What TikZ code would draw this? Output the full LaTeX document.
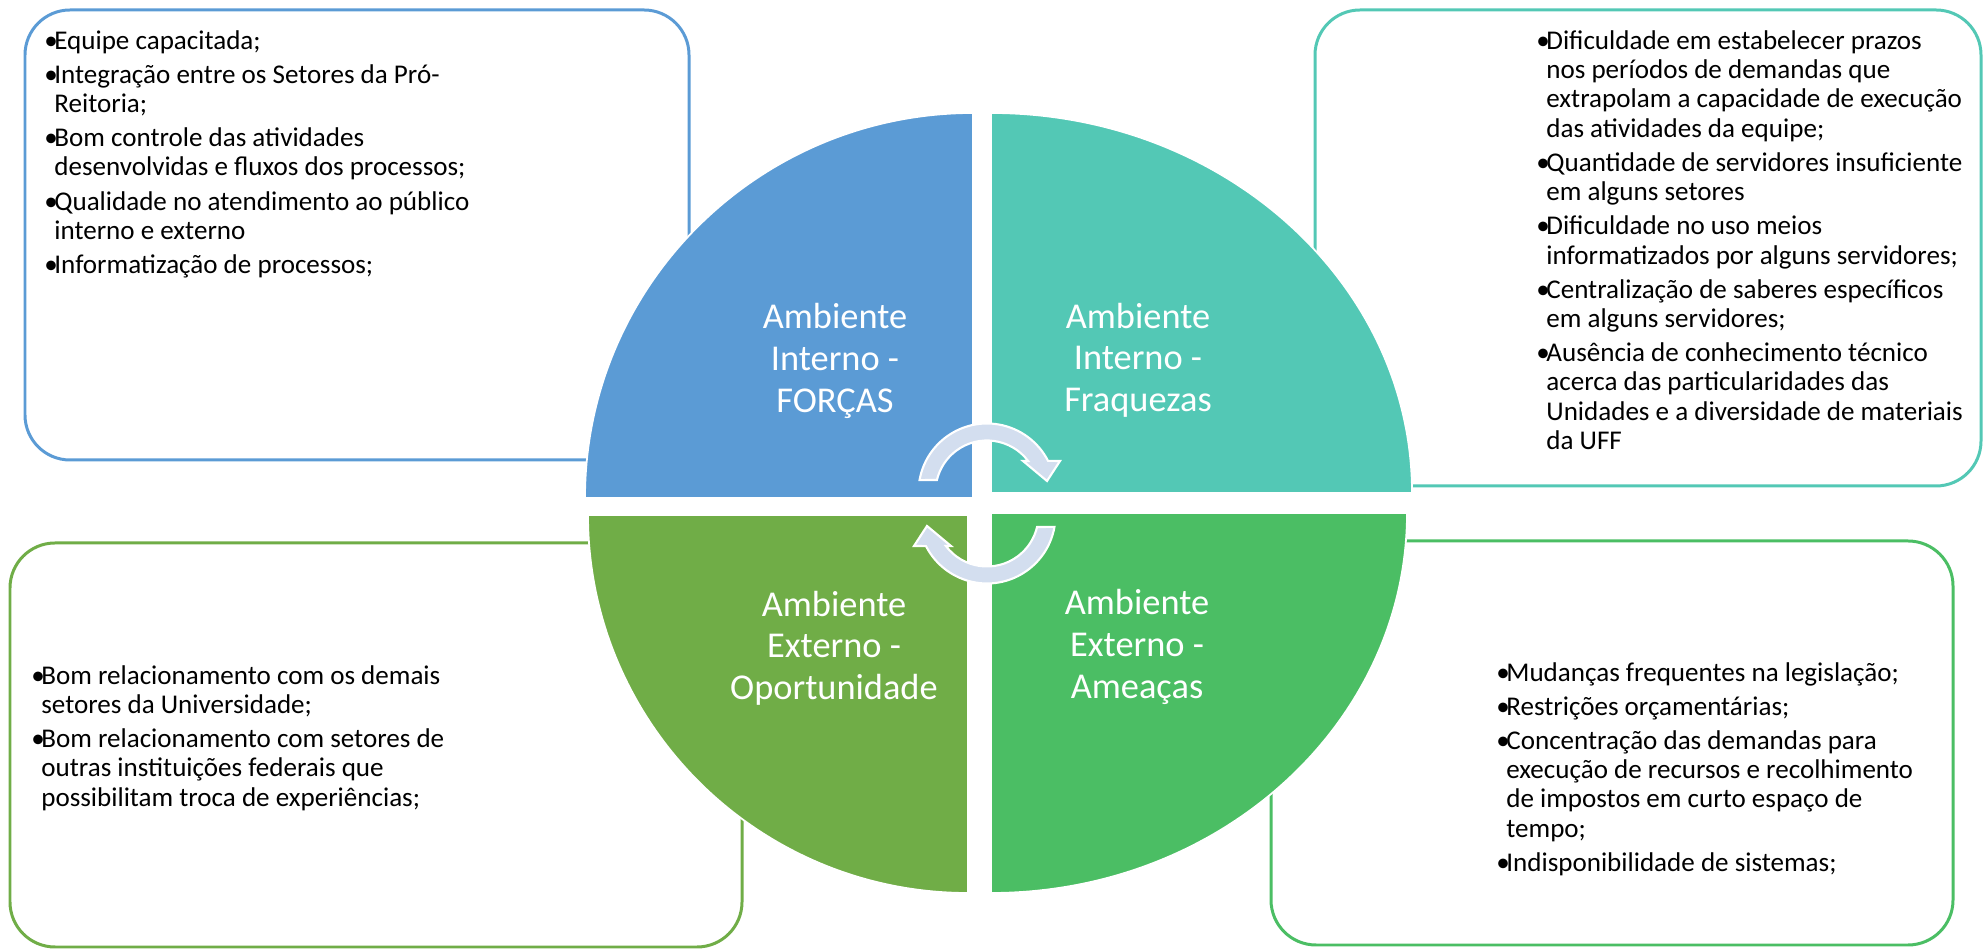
\documentclass[tikz,border=0pt]{standalone}
\usepackage{fontspec}
\setmainfont{Carlito}

\definecolor{corForcas}{RGB}{91,155,213}
\definecolor{corFraquezas}{RGB}{83,200,181}
\definecolor{corOportunidade}{RGB}{112,173,71}
\definecolor{corAmeacas}{RGB}{75,190,100}
\definecolor{corSeta}{RGB}{211,222,239}

\newcommand{\marca}{\makebox[0.37em][l]{\textbullet}}
\newcommand{\recuo}{\hspace*{0.37em}}

\begin{document}
\begin{tikzpicture}[x=0.02cm,y=0.02cm]
    \tikzstyle{caixa} = [line width=1.7pt, rounded corners=0.9cm]
    \tikzstyle{lista} = [anchor=north west, inner sep=0pt, align=left, font=\fontsize{15.4}{16.7}\selectfont]
    \tikzstyle{rotulo} = [white, align=center, inner sep=0pt, font=\fontsize{20.7}{23.7}\selectfont]
    \tikzstyle{quadrante} = [draw=white, line width=1pt]
    \tikzstyle{giro} = [fill=corSeta, draw=white, line width=1.2pt]

    \useasboundingbox (0,0) rectangle (1988,949);

    % Caixas de texto (ficam por trás do círculo)
    \draw[caixa, corForcas] (25,489) rectangle (689,939);
    \draw[caixa, corFraquezas] (1315,463) rectangle (1981,939);
    \draw[caixa, corOportunidade] (10,2) rectangle (742,406);
    \draw[caixa, corAmeacas] (1271,4) rectangle (1953,408);

    % Quadrantes do círculo
    \fill[quadrante, fill=corForcas] (973,451) -- (585,451)
        arc[start angle=180, end angle=90, x radius=388, y radius=385] -- cycle;
    \fill[quadrante, fill=corFraquezas] (991,456) -- (991,836)
        arc[start angle=90, end angle=0, x radius=421, y radius=380] -- cycle;
    \fill[quadrante, fill=corOportunidade] (968,434) -- (588,434)
        arc[start angle=180, end angle=270, x radius=380, y radius=378] -- cycle;
    \fill[quadrante, fill=corAmeacas] (991,436) -- (1407,436)
        arc[start angle=0, end angle=-90, x radius=416, y radius=380] -- cycle;

    % Rótulos dos quadrantes
    \node[rotulo] (forcas) at (835,588) {Ambiente\\Interno -\\FORÇAS};
    \node[rotulo] (fraquezas) at (1138,589) {Ambiente\\Interno -\\Fraquezas};
    \node[rotulo] (oportunidade) at (834,301) {Ambiente\\Externo -\\Oportunidade};
    \node[rotulo] (ameacas) at (1137,302) {Ambiente\\Externo -\\Ameaças};

    % Setas circulares no centro
    \begin{scope}[shift={(987,457)}]
        \draw[giro] (170:68.5) arc[start angle=170, end angle=27, radius=68.5]
            -- (73,31) -- (60,11) -- (36,31)
            -- (37:51.5) arc[start angle=37, end angle=166.5, radius=51.5] -- cycle;
    \end{scope}
    \begin{scope}[shift={(987,434)}, rotate=180]
        \draw[giro] (170:68.5) arc[start angle=170, end angle=27, radius=68.5]
            -- (73,31) -- (60,11) -- (36,31)
            -- (37:51.5) arc[start angle=37, end angle=166.5, radius=51.5] -- cycle;
    \end{scope}

    % Listas
    \node[lista] (txtforcas) at (44,919) {%
        \marca Equipe capacitada;\\[2.7pt]
        \marca Integração entre os Setores da Pró-\\
        \recuo Reitoria;\\[2.7pt]
        \marca Bom controle das atividades\\
        \recuo desenvolvidas e fluxos dos processos;\\[2.7pt]
        \marca Qualidade no atendimento ao público\\
        \recuo interno e externo\\[2.7pt]
        \marca Informatização de processos;};

    \node[lista] (txtfraquezas) at (1536,919) {%
        \marca Dificuldade em estabelecer prazos\\
        \recuo nos períodos de demandas que\\
        \recuo extrapolam a capacidade de execução\\
        \recuo das atividades da equipe;\\[2.7pt]
        \marca Quantidade de servidores insuficiente\\
        \recuo em alguns setores\\[2.7pt]
        \marca Dificuldade no uso meios\\
        \recuo informatizados por alguns servidores;\\[2.7pt]
        \marca Centralização de saberes específicos\\
        \recuo em alguns servidores;\\[2.7pt]
        \marca Ausência de conhecimento técnico\\
        \recuo acerca das particularidades das\\
        \recuo Unidades e a diversidade de materiais\\
        \recuo da UFF};

    \node[lista] (txtoportunidade) at (31,284) {%
        \marca Bom relacionamento com os demais\\
        \recuo setores da Universidade;\\[2.7pt]
        \marca Bom relacionamento com setores de\\
        \recuo outras instituições federais que\\
        \recuo possibilitam troca de experiências;};

    \node[lista] (txtameacas) at (1496,287) {%
        \marca Mudanças frequentes na legislação;\\[2.7pt]
        \marca Restrições orçamentárias;\\[2.7pt]
        \marca Concentração das demandas para\\
        \recuo execução de recursos e recolhimento\\
        \recuo de impostos em curto espaço de\\
        \recuo tempo;\\[2.7pt]
        \marca Indisponibilidade de sistemas;};
\end{tikzpicture}
\end{document}
